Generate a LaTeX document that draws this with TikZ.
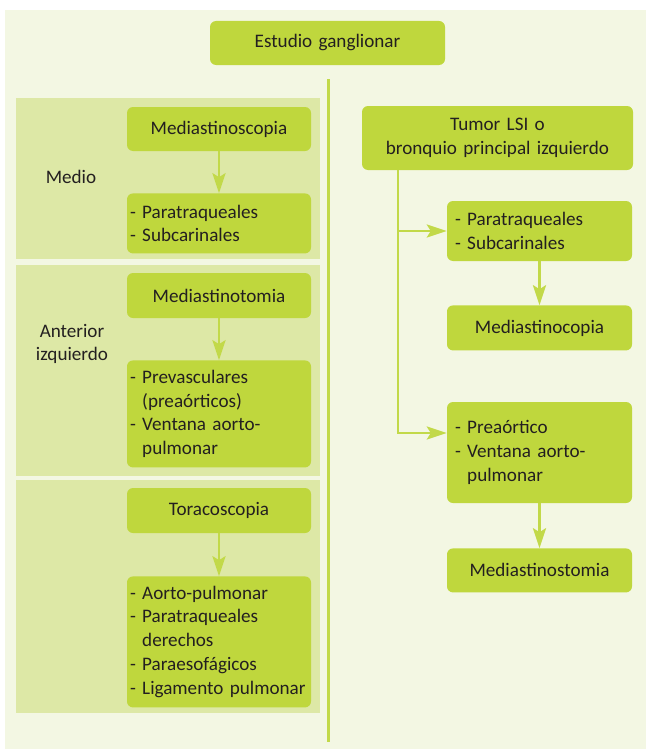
\documentclass[tikz,border=0pt]{standalone}
\usepackage{fontspec}
\setmainfont{Carlito}[WordSpace=0.85]
\usetikzlibrary{arrows.meta, positioning}

\definecolor{limebox}{HTML}{BFD73D}
\definecolor{limeline}{HTML}{C2D949}
\definecolor{panelgreen}{HTML}{DDE8A6}
\definecolor{cream}{HTML}{F3F7E3}
\definecolor{ink}{HTML}{231F20}

\begin{document}
\begin{tikzpicture}[
        x=1bp, y=-1bp,
        every node/.style={font=\fontsize{19.2}{24}\selectfont, text=ink},
        stage/.style={
            rectangle,
            rounded corners=6bp,
            fill=limebox,
            inner xsep=3bp,
            inner ysep=0pt,
            text width=178bp,
            minimum height=45bp,
            align=center
        },
        stageR/.style={stage, inner xsep=8bp, text width=169bp},
        list/.style={stage, align=left},
        listR/.style={stageR, align=left},
        side/.style={align=center, inner sep=0pt},
        flow/.style={
            -{Stealth[length=20bp, width=13bp, inset=4bp]},
            draw=limeline,
            line width=2.8bp
        },
        rule/.style={draw=limeline, line width=3bp}
    ]
        \useasboundingbox (0,0) rectangle (646,751);
        \fill[cream] (5,10) rectangle (646,749);

        % left panels
        \fill[panelgreen] (16,98) rectangle (320,259);
        \fill[panelgreen] (16,265) rectangle (320,476);
        \fill[panelgreen] (16,480) rectangle (320,713);

        \node (estudio) [stage, text width=229bp, minimum height=44bp] at (327.5,43) {Estudio ganglionar};

        \coordinate (septop) at (328,79);
        \coordinate (sepbot) at (328,742);
        \draw [rule] (septop) -- (sepbot);

        % left column
        \node (medio) [side] at (71,177) {Medio};
        \node (mscopia) [stage, minimum height=44bp] at (219,129) {Mediastinoscopia};
        \node (paraL) [list, minimum height=60bp, below=42bp of mscopia] {- Paratraqueales\\- Subcarinales};

        \node (anterior) [side] at (72,344) {Anterior\\izquierdo};
        \node (mtomia) [stage] at (219,295.5) {Mediastinotomia};
        \node (prevasc) [list, minimum height=107bp, below=42bp of mtomia] {- Prevasculares\\\phantom{- }(preaórticos)\\- Ventana aorto-\\\phantom{- }pulmonar};

        \node (toraco) [stage] at (219,510.5) {Toracoscopia};
        \node (aorto) [list, minimum height=131bp, below=43bp of toraco] {- Aorto-pulmonar\\- Paratraqueales\\\phantom{- }derechos\\- Paraesofágicos\\\mbox{- Ligamento pulmonar}};

        \draw [flow] (mscopia) -- (paraL);
        \draw [flow] (mtomia) -- (prevasc);
        \draw [flow] (toraco) -- (aorto);

        % right column
        \node (tumor) [stageR, text width=255bp, minimum height=64bp] at (497.5,138) {Tumor LSI o\\bronquio principal izquierdo};
        \node (paraR) [listR, minimum height=60bp] at (539.5,231) {- Paratraqueales\\- Subcarinales};
        \node (mcopia) [stageR, below=44bp of paraR] {Mediastinocopia};
        \node (preao) [listR, minimum height=101bp] at (539.5,452.5) {- Preaórtico\\- Ventana aorto-\\\phantom{- }pulmonar};
        \node (mstomia) [stageR, minimum height=44bp, below=45bp of preao] {Mediastinostomia};

        \coordinate (trunk) at (398,170);
        \draw [flow] (trunk) |- ([yshift=19.5bp]preao.west);
        \draw [flow] (trunk |- paraR.west) -- (paraR.west);
        \draw [flow] (paraR) -- (mcopia);
        \draw [flow] (preao) -- (mstomia);
    \end{tikzpicture}
\end{document}
